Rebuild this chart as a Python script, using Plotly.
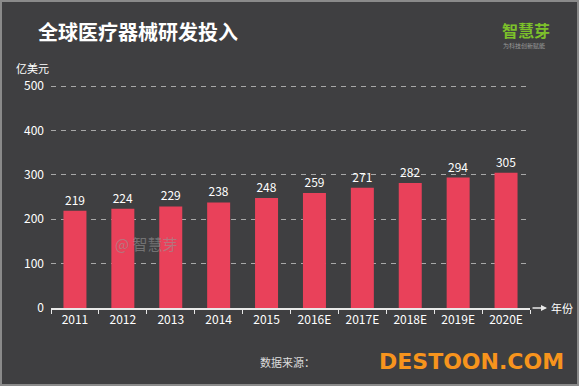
import plotly.graph_objects as go

years = ["2011", "2012", "2013", "2014", "2015", "2016E", "2017E", "2018E", "2019E", "2020E"]
values = [219, 224, 229, 238, 248, 259, 271, 282, 294, 305]
y_ticks = [0, 100, 200, 300, 400, 500]

FONT = "Noto Sans CJK SC"
BAR = "#e9415a"
L, R, T, B = 51, 49, 84, 78
PW, PH = 579 - L - R, 386 - T - B


def px(x):
    return (x - L) / PW


def py(y):
    return (386 - B - y) / PH


fig = go.Figure()
fig.add_trace(go.Bar(
    x=years, y=values, width=0.48,
    marker=dict(color=BAR, line=dict(width=0)),
    text=[str(v) for v in values], textposition="outside",
    textfont=dict(color="#ffffff", size=12, family=FONT),
    cliponaxis=False, hoverinfo="skip",
))

fig.update_layout(
    width=579, height=386,
    margin=dict(l=L, r=R, t=T, b=B),
    paper_bgcolor="#3f3f41", plot_bgcolor="rgba(0,0,0,0)",
    showlegend=False,
    font=dict(family=FONT, color="#ffffff", size=12),
)
fig.update_xaxes(
    showgrid=False, showline=True, linecolor="#e8e8e8", linewidth=1.5,
    ticks="outside", tickson="boundaries", ticklen=4, tickcolor="#e8e8e8",
    tickfont=dict(size=12, color="#ffffff", family=FONT),
)
fig.update_yaxes(
    range=[0, 505], tickvals=y_ticks, showgrid=True, gridcolor="#a8a8a8",
    griddash="5px,5px", gridwidth=1, zeroline=False, showline=False,
    ticks="", ticklabelstandoff=6,
    tickfont=dict(size=12, color="#ffffff", family=FONT),
)

ann = [
    dict(text="<b>全球医疗器械研发投入</b>", x=36, y=32, font=dict(size=20, color="#ffffff")),
    dict(text="亿美元", x=14, y=68, font=dict(size=11, color="#ffffff")),
    dict(text="年份", x=549, y=308, font=dict(size=11, color="#ffffff")),
    dict(text="<b>智慧芽</b>", x=500, y=30, font=dict(size=16, color="#7cc12a")),
    dict(text="为科技创新赋能", x=501, y=45, font=dict(size=6, color="#9a9a9a")),
    dict(text="@ 智慧芽", x=113, y=243, font=dict(size=15, color="rgba(150,150,150,0.6)")),
    dict(text="数据来源：", x=258, y=362, font=dict(size=11, color="#dddddd")),
    dict(text="<b>DESTOON.COM</b>", x=377, y=361, font=dict(size=22, color="#f7941d", family="DejaVu Sans")),
]
for a in ann:
    fig.add_annotation(
        text=a["text"], xref="paper", yref="paper",
        x=px(a["x"]), y=py(a["y"]),
        xanchor="left", yanchor="middle", showarrow=False, font=a["font"],
    )

# x-axis arrow tip
fig.add_annotation(x=px(547), y=0, ax=-16, ay=0, xref="paper", yref="paper",
                   axref="pixel", ayref="pixel",
                   showarrow=True, arrowhead=2, arrowsize=0.8, arrowwidth=1.5,
                   arrowcolor="#e8e8e8", text="")

# light frame
fig.add_shape(type="rect", xref="paper", yref="paper",
              x0=px(1), x1=px(578), y0=py(385), y1=py(1),
              line=dict(color="#8a8a8a", width=2), fillcolor="rgba(0,0,0,0)")

fig.write_html("out.html", config={"displayModeBar": False},
               post_script="document.body.style.margin='0';document.body.style.overflow='hidden';")
